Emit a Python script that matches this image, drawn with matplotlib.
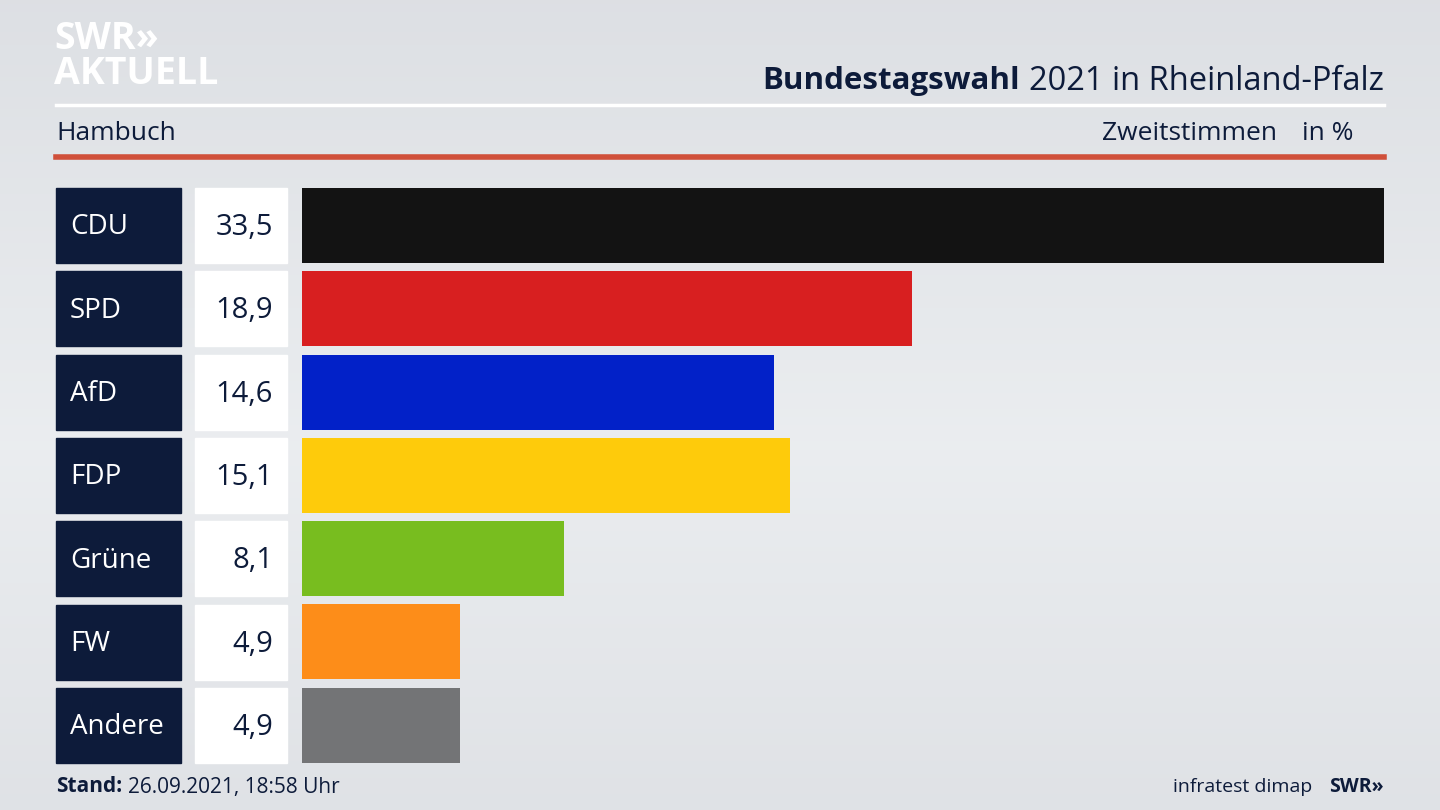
import numpy as np
import matplotlib.pyplot as plt
from matplotlib.patches import Rectangle

plt.rcParams["font.family"] = "Open Sans"

parties = ["CDU", "SPD", "AfD", "FDP", "Grüne", "FW", "Andere"]
values = [33.5, 18.9, 14.6, 15.1, 8.1, 4.9, 4.9]
colors = ["#131313", "#d81f20", "#0221c8", "#fecb0b", "#78bd1f", "#fd8d19", "#737476"]

W, H = 1440, 810
NAVY = "#0d1b3a"

fig = plt.figure(figsize=(W / 100, H / 100), dpi=100)

# background in pixel coordinates
bg = fig.add_axes([0, 0, 1, 1])
bg.set_xlim(0, W)
bg.set_ylim(H, 0)
bg.axis("off")
yy = np.linspace(0, 1, 200)[:, None]
grad = 1 - 0.6 * np.abs(yy - 0.55) * 2
bg.imshow(np.dstack([0.84 + 0.08 * grad, 0.85 + 0.08 * grad, 0.87 + 0.07 * grad]),
          extent=[0, W, H, 0], aspect="auto", zorder=0)

bg.text(54, 39, "SWR»", fontsize=27, fontweight="bold", color="white", va="center")
bg.text(54, 74, "AKTUELL", fontsize=27, fontweight="bold", color="white", va="center")
bg.plot([56, 1384], [105, 105], color="white", lw=2.5)
bg.text(1384, 81, "2021 in Rheinland-Pfalz", fontsize=23.5, color=NAVY, ha="right", va="center")
bg.text(1020, 81, "Bundestagswahl", fontsize=22.5, fontweight="bold", color=NAVY, ha="right", va="center")
bg.text(56, 134, "Hambuch", fontsize=19, color=NAVY, va="center")
bg.text(1277, 134, "Zweitstimmen", fontsize=19, color=NAVY, ha="right", va="center")
bg.text(1354, 134, "in %", fontsize=19, color=NAVY, ha="right", va="center")
bg.plot([56, 1384], [157, 157], color="#d0503a", lw=4)

bg.text(56, 787, "Stand:", fontsize=15, fontweight="bold", color=NAVY, va="center")
bg.text(128, 787, "26.09.2021, 18:58 Uhr", fontsize=15, color=NAVY, va="center")
bg.text(1312, 787, "infratest dimap", fontsize=14, color=NAVY, ha="right", va="center")
bg.text(1384, 787, "SWR»", fontsize=14, fontweight="bold", color=NAVY, ha="right", va="center")

# label and value boxes
top, step, bh = 188, 83.3, 75
for i, (p, v) in enumerate(zip(parties, values)):
    y0 = top + i * step
    bg.add_patch(Rectangle((56, y0), 125, bh, color=NAVY, zorder=2))
    bg.add_patch(Rectangle((195, y0), 92, bh, color="white", zorder=2))
    bg.text(70, y0 + bh / 2 + 2, p, fontsize=20, color="white", va="center", zorder=3)
    bg.text(273, y0 + bh / 2 + 2, f"{v:.1f}".replace(".", ","), fontsize=21,
            color=NAVY, ha="right", va="center", zorder=3)

# bars
y_bottom = top + 6 * step + bh
ax = fig.add_axes([302 / W, 1 - y_bottom / H, (1384 - 302) / W, (y_bottom - top) / H])
ax.barh(range(len(parties)), values, height=bh / step, color=colors)
ax.set_xlim(0, max(values))
ax.set_ylim(len(parties) - 0.5 - (1 - bh / step) / 2, -0.5 + (1 - bh / step) / 2)
ax.axis("off")

fig.savefig("out.png", dpi=100)
